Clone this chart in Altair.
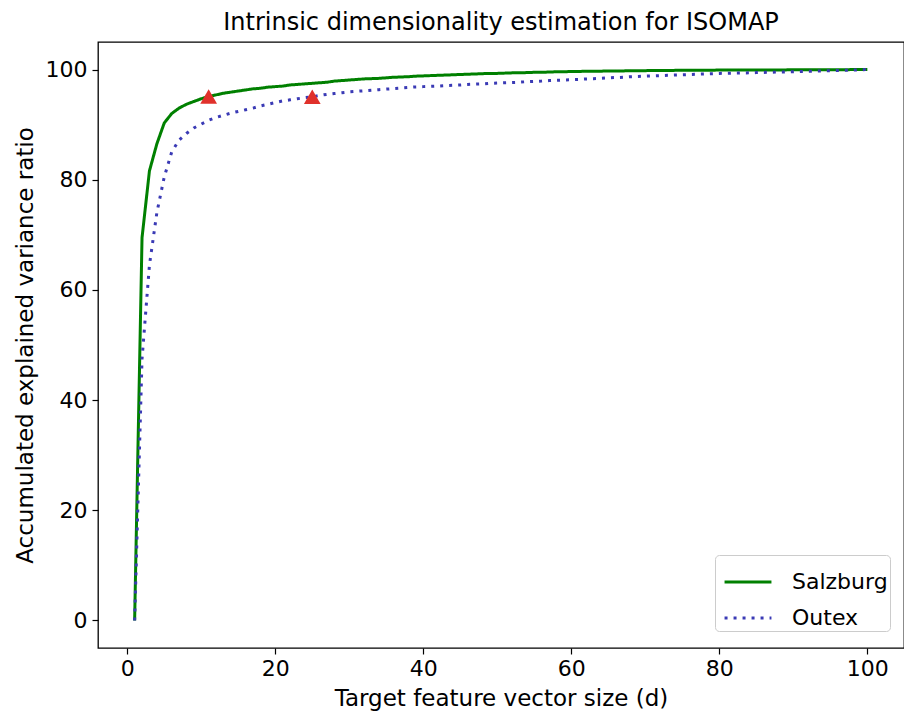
import altair as alt
import pandas as pd

d_values = list(range(1, 101))

salzburg = [
    0.0, 69.5, 81.6, 86.5, 90.3, 92.0, 93.0, 93.7, 94.2, 94.7,
    95.1, 95.4, 95.7, 95.9, 96.1, 96.3, 96.5, 96.6, 96.8, 96.9,
    97.0, 97.2, 97.3, 97.4, 97.5, 97.6, 97.7, 97.9, 98.0, 98.1,
    98.2, 98.3, 98.35, 98.4, 98.5, 98.6, 98.65, 98.7, 98.8, 98.85,
    98.9, 98.95, 99.0, 99.05, 99.1, 99.15, 99.2, 99.25, 99.3, 99.3,
    99.35, 99.4, 99.4, 99.45, 99.5, 99.5, 99.55, 99.6, 99.6, 99.65,
    99.65, 99.7, 99.7, 99.7, 99.75, 99.75, 99.75, 99.8, 99.8, 99.8,
    99.82, 99.83, 99.84, 99.85, 99.86, 99.87, 99.88, 99.88, 99.89, 99.9,
    99.9, 99.91, 99.91, 99.92, 99.92, 99.93, 99.93, 99.94, 99.94, 99.95,
    99.95, 99.96, 99.96, 99.97, 99.97, 99.98, 99.98, 99.99, 99.99, 100.0,
]

outex = [
    0.0, 47.5, 64.5, 74.0, 80.5, 85.0, 87.2, 88.4, 89.4, 90.1,
    90.8, 91.3, 91.7, 92.1, 92.4, 92.7, 93.0, 93.4, 93.7, 94.0,
    94.3, 94.5, 94.7, 94.9, 95.05, 95.3, 95.5, 95.65, 95.8, 95.95,
    96.05, 96.15, 96.25, 96.35, 96.45, 96.55, 96.65, 96.75, 96.85, 96.9,
    96.95, 97.0, 97.1, 97.15, 97.2, 97.3, 97.35, 97.4, 97.5, 97.55,
    97.6, 97.65, 97.7, 97.8, 97.85, 97.9, 98.0, 98.05, 98.1, 98.15,
    98.2, 98.3, 98.35, 98.4, 98.5, 98.55, 98.6, 98.7, 98.75, 98.8,
    98.85, 98.9, 98.95, 99.0, 99.05, 99.1, 99.15, 99.2, 99.25, 99.3,
    99.32, 99.35, 99.38, 99.4, 99.45, 99.48, 99.5, 99.55, 99.58, 99.6,
    99.65, 99.68, 99.7, 99.75, 99.78, 99.82, 99.86, 99.9, 99.95, 100.0,
]

series_names = ["Salzburg", "Outex"]
series_colors = ["#008000", "#3a3ab5"]

marker_d = [11, 25]
marker_v = [95.1, 95.05]

x_ticks = [0, 20, 40, 60, 80, 100]
y_ticks = [0, 20, 40, 60, 80, 100]

rows = []
for name, vals in zip(series_names, [salzburg, outex]):
    for d, v in zip(d_values, vals):
        rows.append({"d": d, "value": v, "series": name})
df = pd.DataFrame(rows)
mk = pd.DataFrame({"d": marker_d, "value": marker_v})

FONT = "DejaVu Sans"

xscale = alt.Scale(domain=[-3.95, 104.95], nice=False, zero=False)
yscale = alt.Scale(domain=[-5, 105], nice=False, zero=False)

xaxis = alt.Axis(values=x_ticks, title="Target feature vector size (d)", grid=False,
                 domain=False, tickColor="black", tickSize=6, tickWidth=1.2,
                 labelFontSize=22, labelColor="black", labelPadding=4,
                 titleFontSize=23, titleFontWeight="normal", titleColor="black",
                 titlePadding=8, labelFont=FONT, titleFont=FONT)
yaxis = alt.Axis(values=y_ticks, title="Accumulated explained variance ratio", grid=False,
                 domain=False, tickColor="black", tickSize=6, tickWidth=1.2,
                 labelFontSize=22, labelColor="black", labelPadding=5,
                 titleFontSize=23, titleFontWeight="normal", titleColor="black",
                 titlePadding=8, labelFont=FONT, titleFont=FONT)

lines = alt.Chart(df).mark_line(strokeWidth=3, clip=True).encode(
    x=alt.X("d:Q", scale=xscale, axis=xaxis),
    y=alt.Y("value:Q", scale=yscale, axis=yaxis),
    color=alt.Color("series:N", scale=alt.Scale(domain=series_names, range=series_colors),
                    sort=series_names,
                    legend=alt.Legend(title=None, orient="none", legendX=617, legendY=513,
                                      symbolType="stroke", symbolSize=2200, symbolStrokeWidth=3,
                                      symbolOffset=6, labelExpr="datum.label + ' '",
                                      labelFontSize=22, labelFont=FONT, labelColor="black",
                                      rowPadding=-12, padding=2, strokeColor="#cccccc",
                                      fillColor="white", cornerRadius=4, labelOffset=19)),
    strokeDash=alt.StrokeDash("series:N",
                              scale=alt.Scale(domain=series_names, range=[[1, 0], [3, 6]]),
                              sort=series_names, legend=None),
    detail="series:N",
)

points = alt.Chart(mk).mark_point(shape="triangle-up", filled=True, size=280,
                                  color="#e0312b", opacity=1).encode(
    x=alt.X("d:Q", scale=xscale),
    y=alt.Y("value:Q", scale=yscale),
)

chart = alt.layer(lines, points).properties(
    width=806, height=606,
    title=alt.TitleParams("Intrinsic dimensionality estimation for ISOMAP", fontSize=24,
                          font=FONT, fontWeight="normal", color="black", offset=7),
    autosize=alt.AutoSizeParams(type="none"),
    padding={"left": 90, "top": 34, "right": 0, "bottom": 64},
)

chart = chart.configure(background="white").configure_view(stroke="black", strokeWidth=1.3)

chart.save("out.html", embed_options={"renderer": "svg", "actions": False})
